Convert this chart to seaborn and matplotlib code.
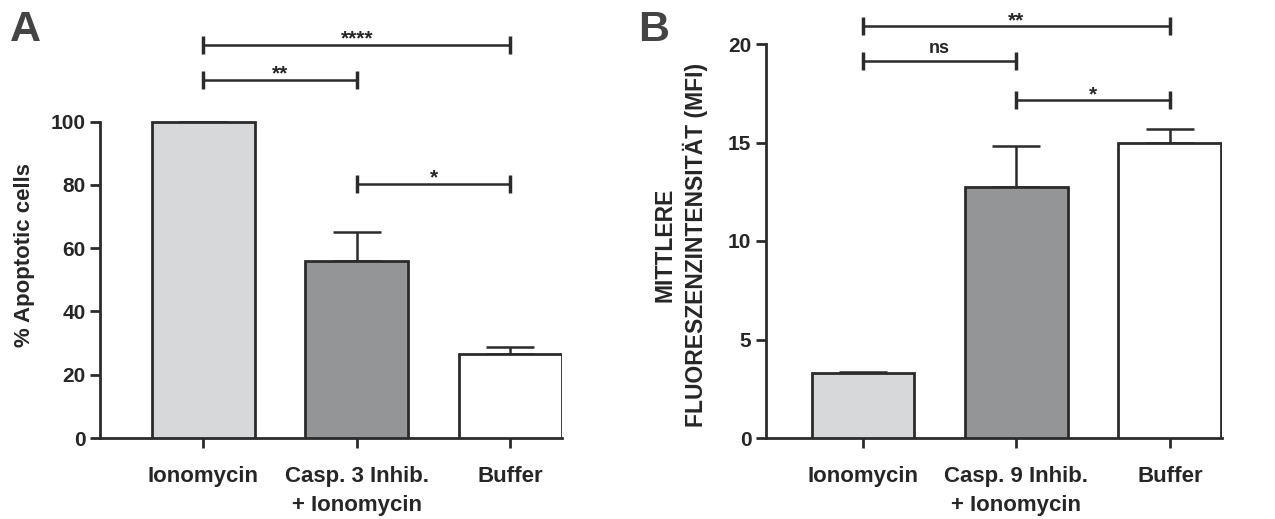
import numpy as np
import pandas as pd
import matplotlib
matplotlib.use("Agg")
import matplotlib.pyplot as plt
import seaborn as sns

# data
labels_a = ["Ionomycin", "Casp. 3 Inhib.\n+ Ionomycin", "Buffer"]
apoptotic = [100.0, 56.0, 26.7]
apoptotic_err = [0.0, 9.0, 2.0]

labels_b = ["Ionomycin", "Casp. 9 Inhib.\n+ Ionomycin", "Buffer"]
mfi = [3.32, 12.75, 15.0]
mfi_err = [0.05, 2.05, 0.7]

# significance brackets: (from, to, height, text)
sig_a = [(0, 2, 124.3, "****"), (0, 1, 113.3, "**"), (1, 2, 80.4, "*")]
sig_b = [(0, 2, 20.9, "**"), (0, 1, 19.14, "ns"), (1, 2, 17.16, "*")]

bar_colors = ["#d7d8da", "#939598", "#ffffff"]
edge = "#2b2b2b"

sns.set_style("ticks")
plt.rcParams['font.family'] = ['Liberation Sans', 'DejaVu Sans']
plt.rcParams['font.weight'] = 'bold'

fig = plt.figure(figsize=(12.75, 5.19), dpi=100)
W, H = 1275, 519
axA = fig.add_axes([100 / W, 81 / H, 462 / W, 398.6 / H])
axB = fig.add_axes([766 / W, 81 / H, 456 / W, 433.4 / H])


def draw_panel(ax, labels, vals, errs, sig, ylim, yticks, xlim):
    df = pd.DataFrame({"group": labels, "value": vals})
    sns.barplot(data=df, x="group", y="value", hue="group", palette=bar_colors,
                width=0.67, edgecolor=edge, linewidth=2, legend=False, ax=ax,
                errorbar=None, zorder=3)
    # upward error bars only
    ax.errorbar(range(len(vals)), vals, yerr=[np.zeros(len(errs)), errs],
                fmt="none", ecolor=edge, elinewidth=1.8, capsize=17,
                capthick=1.8, zorder=2)
    for x1, x2, y, txt in sig:
        ax.plot([x1, x2], [y, y], color=edge, lw=1.8, clip_on=False)
        ax.plot([x1, x2], [y, y], ls="none", marker="|", ms=13, mew=2.5,
                color=edge, clip_on=False)
        if "*" in txt:
            ax.annotate(txt, (np.mean([x1, x2]), y), xytext=(0, 0),
                        textcoords="offset points", ha="center",
                        va="baseline", fontsize=15, fontweight="bold",
                        annotation_clip=False)
        else:
            ax.annotate(txt, (np.mean([x1, x2]), y), xytext=(0, 6),
                        textcoords="offset points", ha="center",
                        va="baseline", fontsize=13, fontweight="bold",
                        annotation_clip=False)
    ax.set_ylim(*ylim)
    ax.set_xlim(*xlim)
    ax.set_yticks(yticks)
    ax.spines["left"].set_bounds(yticks[0], yticks[-1])
    sns.despine(ax=ax)
    for s in ["left", "bottom"]:
        ax.spines[s].set_linewidth(2)
        ax.spines[s].set_color(edge)
    ax.tick_params(axis="both", width=2, length=7, color=edge,
                   labelsize=15)
    ax.tick_params(axis="x", pad=13, labelsize=16)
    ax.set_xlabel("")
    for t in ax.get_xticklabels():
        t.set_linespacing(1.5)
    for t in ax.get_xticklabels() + ax.get_yticklabels():
        t.set_fontweight("bold")


draw_panel(axA, labels_a, apoptotic, apoptotic_err, sig_a, (0, 126),
           [0, 20, 40, 60, 80, 100], (-0.67, 2.335))
axA.set_ylabel("% Apoptotic cells", fontsize=16, fontweight="bold")
axA.yaxis.set_label_coords(-0.141, 0.459)

draw_panel(axB, labels_b, mfi, mfi_err, sig_b, (0, 22),
           [0, 5, 10, 15, 20], (-0.632, 2.34))
axB.set_ylabel("MITTLERE\nFLUORESZENZINTENSITÄT (MFI)", fontsize=16.5,
               fontweight="bold", linespacing=1.3)
axB.yaxis.set_label_coords(-0.127, 0.445)

fig.text(10 / W, 1 - 30 / H, "A", fontsize=31, fontweight="bold",
         color="#444444", va="center", ha="left")
fig.text(638 / W, 1 - 30 / H, "B", fontsize=31, fontweight="bold",
         color="#444444", va="center", ha="left")

fig.savefig("out.png", dpi=100)
